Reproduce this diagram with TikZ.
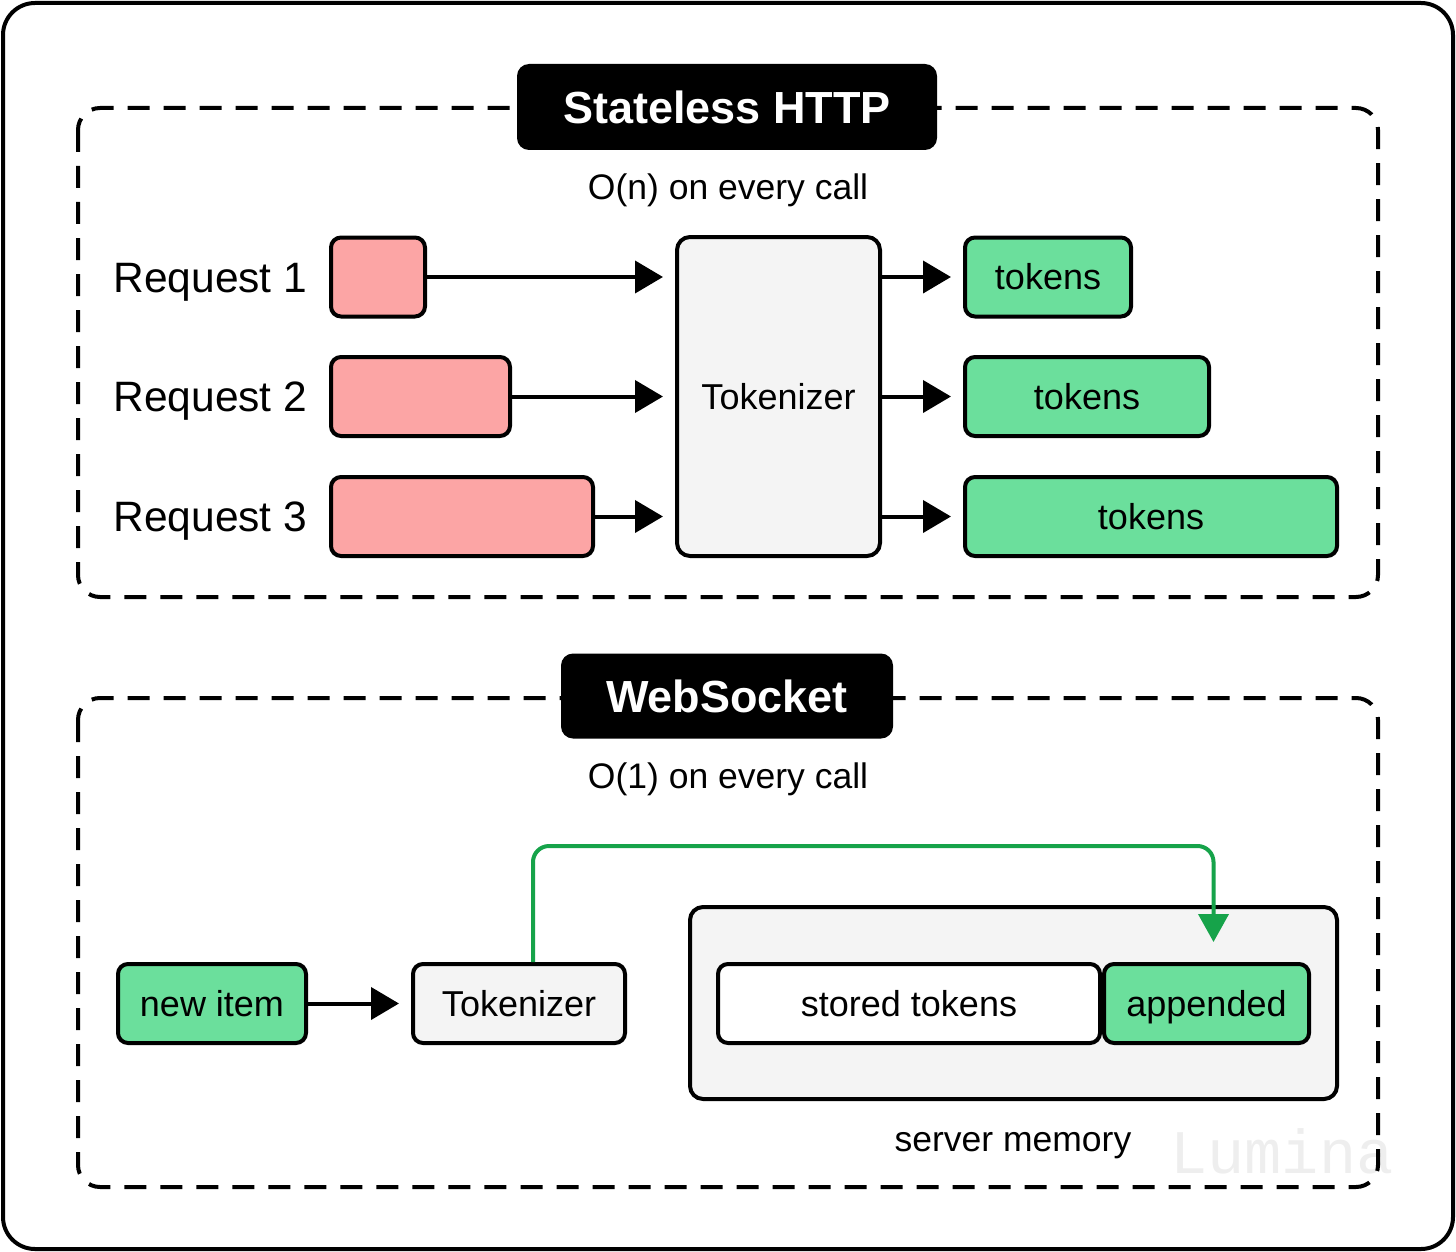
\documentclass[tikz,border=0pt]{standalone}
\usepackage{fontspec}
\setmainfont{Liberation Sans}
\newfontfamily\markfont{Liberation Mono}
\usetikzlibrary{arrows.meta, positioning}

\definecolor{reqred}{HTML}{FCA5A5}
\definecolor{tokgreen}{HTML}{6BDF9C}
\definecolor{procgray}{HTML}{F4F4F4}
\definecolor{flowgreen}{HTML}{16A34A}
\definecolor{markgray}{HTML}{EEEEEE}

\newcommand{\capsize}{\fontsize{35.5}{42}\selectfont}
\newcommand{\boxsize}{\fontsize{36}{42}\selectfont}
\newcommand{\reqsize}{\fontsize{42.5}{50}\selectfont}

\begin{document}
\begin{tikzpicture}[
    x=1pt, y=-1pt,
    font=\boxsize,
    every node/.style={text height=25.8pt, text depth=0pt},
    reqbox/.style={rectangle, draw=black, fill=reqred, rounded corners=10pt, line width=4pt, minimum height=79pt},
    tokbox/.style={rectangle, draw=black, fill=tokgreen, rounded corners=10pt, line width=4pt, minimum height=79pt, inner sep=0pt},
    procbox/.style={rectangle, draw=black, fill=procgray, rounded corners=13pt, line width=4pt},
    titlebox/.style={rectangle, fill=black, text=white, rounded corners=12pt, font=\fontsize{45}{54}\selectfont\bfseries, text height=32.2pt},
    reqlabel/.style={font=\reqsize, text height=30.4pt, anchor=west},
    group/.style={draw=black, line width=4pt, dash pattern=on 22pt off 14pt, rounded corners=22pt},
    arr/.style={-{Triangle[length=28pt, width=32pt]}, line width=4pt, shorten >=12pt},
    garr/.style={-{Triangle[length=28pt, width=30pt]}, line width=4pt, draw=flowgreen, rounded corners=16pt, shorten >=20pt}
]
\useasboundingbox (0,0) rectangle (1456,1252);
\draw[line width=4pt, rounded corners=32pt] (3,3) rectangle (1453,1249);
\node[font=\markfont\fontsize{62}{62}\selectfont, text=markgray, text height=37pt] (mark) at (1282,1155) {Lumina};

% stateless http
\draw[group] (78,108) rectangle (1378,597);
\node[titlebox, minimum width=420pt, minimum height=86pt] (httptitle) at (727,107) {Stateless HTTP};
\node[font=\capsize] (ncost) at (728,187) {O(n) on every call};
\node[procbox, minimum width=203pt, minimum height=319pt] (tok) at (778.5,396.5) {Tokenizer};
\foreach \i/\w/\v/\y in {1/94/166/277, 2/179/244/396.5, 3/262/372/516.5} {
    \node[reqlabel] (lbl\i) at (110,\y) {Request \i};
    \node[reqbox, minimum width=\w pt, anchor=west] (req\i) at (329,\y) {};
    \node[tokbox, minimum width=\v pt, anchor=west] (out\i) at (963,\y) {tokens};
    \draw[arr] (req\i) -- (tok.west |- req\i);
    \draw[arr] (tok.east |- out\i) -- (out\i);
}

% websocket
\draw[group] (78,698) rectangle (1378,1187);
\node[titlebox, minimum width=332pt, minimum height=85pt] (wstitle) at (727,696) {WebSocket};
\node[font=\capsize] (onecost) at (728,776) {O(1) on every call};
\node[tokbox, minimum width=188pt] (newitem) at (212,1003.5) {new item};
\node[procbox, minimum width=212pt, minimum height=79pt, rounded corners=10pt] (tok2) at (519,1003.5) {Tokenizer};
\draw[arr] (newitem) -- (tok2);
\node[procbox, minimum width=647pt, minimum height=192pt] (mem) at (1013.5,1003) {};
\node[procbox, fill=white, minimum width=382pt, minimum height=79pt, rounded corners=10pt, anchor=west] (stored) at (716,1003.5) {stored tokens};
\node[tokbox, minimum width=205pt, right=0pt of stored] (appended) {appended};
\node[font=\capsize] (memlbl) at (1013,1139) {server memory};
\coordinate (lift) at ([xshift=14pt]tok2.north);
\coordinate (drop) at ([xshift=7pt]appended.north);
\coordinate (bend) at (0,846);
\draw[garr] (lift) -- (lift |- bend) -| (drop);
\end{tikzpicture}
\end{document}
